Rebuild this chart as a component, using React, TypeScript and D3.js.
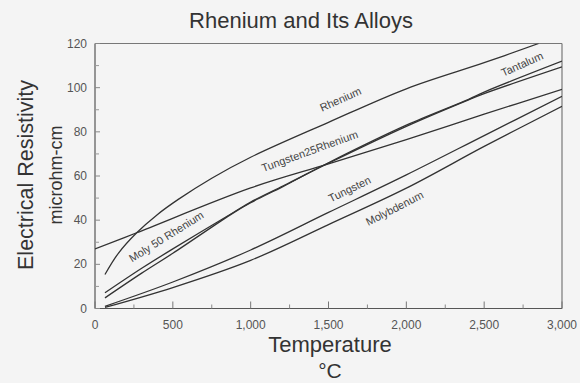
import React from "react";
import * as d3 from "d3";

const W = 580;
const H = 383;

const xTicks = [0, 500, 1000, 1500, 2000, 2500, 3000];
const xMinorTicks = [250, 750, 1250, 1750, 2250, 2750];
const yTicks = [0, 20, 40, 60, 80, 100, 120];
const yMinorTicks = [10, 30, 50, 70, 90, 110];

const rheniumT = [64, 150, 268, 400, 535, 750, 1000, 1500, 2000, 2500, 2850];
const rheniumV = [15.4, 25, 34.3, 42.5, 49.4, 59, 68.5, 84.3, 99.5, 111.3, 120];

const w25ReT = [0, 268, 1000, 1500, 2000, 2500, 3000];
const w25ReV = [27, 34.3, 54.6, 65.5, 76.5, 88, 99.2];

const moly50ReT = [64, 300, 500, 889, 1000, 1210, 1500, 2000, 2400, 2500, 3000];
const moly50ReV = [7.1, 18.2, 27, 43.5, 48.2, 55.6, 65.8, 82.5, 94.5, 97.3, 109.4];

const tantalumT = [64, 300, 500, 889, 1000, 1210, 1500, 2000, 2400, 2500, 3000];
const tantalumV = [4.8, 16, 25, 43.3, 47.9, 55.3, 66, 83, 94.7, 98, 112];

const tungstenT = [64, 500, 1000, 1500, 2000, 2500, 3000];
const tungstenV = [1, 12, 26.5, 43.5, 60.5, 78.3, 96.1];

const molybdenumT = [64, 500, 1000, 1500, 2000, 2500, 3000];
const molybdenumV = [0.5, 9.5, 21.8, 38, 54.5, 73.4, 91.6];

const seriesNames = ["Rhenium", "Tungsten25Rhenium", "Moly 50 Rhenium", "Tantalum", "Tungsten", "Molybdenum"];
const seriesT = [rheniumT, w25ReT, moly50ReT, tantalumT, tungstenT, molybdenumT];
const seriesV = [rheniumV, w25ReV, moly50ReV, tantalumV, tungstenV, molybdenumV];

// curve label anchors (data space) and rotation
const labelTexts = ["Rhenium", "Tungsten25Rhenium", "Moly 50 Rhenium", "Tungsten", "Molybdenum", "Tantalum"];
const labelT = [1580, 1381, 461, 1638, 1927, 2746];
const labelV = [94.4, 70.9, 32.2, 53.7, 45, 110.3];
const labelAngle = [-24, -20, -32, -26, -27, -24];

const FONT = "'Liberation Sans', Arial, Helvetica, sans-serif";

export default function App() {
  const x = d3.scaleLinear().domain([0, 3000]).range([95, 562]);
  const y = d3.scaleLinear().domain([0, 120]).range([308.5, 43.5]);

  const line = d3
    .line<[number, number]>()
    .x((d) => x(d[0]))
    .y((d) => y(d[1]))
    .curve(d3.curveCatmullRom.alpha(0.5));

  const paths = seriesT.map((ts, i) =>
    line(ts.map((t, j) => [t, seriesV[i][j]] as [number, number]))
  );

  const x0 = x(0), x1 = x(3000), y0 = y(0), y1 = y(120);

  return (
    <svg
      width={W}
      height={H}
      style={{ position: "absolute", left: 0, top: 0, background: "#f4f4f4" }}
      fontFamily={FONT}
    >
      <rect x={0} y={0} width={W} height={H} fill="#f4f4f4" />
      <text x={301} y={28} fontSize={22} fill="#333" textAnchor="middle">
        Rhenium and Its Alloys
      </text>

      <defs>
        <clipPath id="plotclip">
          <rect x={x0} y={y1} width={x1 - x0} height={y0 - y1} />
        </clipPath>
      </defs>

      {/* frame */}
      <line x1={x0} x2={x1} y1={y1} y2={y1} stroke="#777" strokeWidth={1} />
      <line x1={x1} x2={x1} y1={y1} y2={y0} stroke="#777" strokeWidth={1.2} />
      <line x1={x0} x2={x1} y1={y0} y2={y0} stroke="#555" strokeWidth={1.2} />
      <line x1={x0} x2={x0} y1={y1} y2={y0} stroke="#555" strokeWidth={1.2} />

      {/* x ticks */}
      {xTicks.map((t) => (
        <g key={"xt" + t}>
          <line x1={x(t)} x2={x(t)} y1={y0} y2={y0 - 7} stroke="#777" />
          <text x={x(t)} y={328.5} fontSize={12} fill="#555" textAnchor="middle">
            {d3.format(",")(t)}
          </text>
        </g>
      ))}
      {xMinorTicks.map((t) => (
        <line key={"xm" + t} x1={x(t)} x2={x(t)} y1={y0} y2={y0 - 4} stroke="#888" />
      ))}

      {/* y ticks */}
      {yTicks.map((v) => (
        <g key={"yt" + v}>
          <line x1={x0} x2={x0 + 5} y1={y(v)} y2={y(v)} stroke="#888" />
          <text x={87} y={y(v) + 4} fontSize={12} fill="#555" textAnchor="end">
            {v}
          </text>
        </g>
      ))}
      {yMinorTicks.map((v) => (
        <line key={"ym" + v} x1={x0} x2={x0 + 4} y1={y(v)} y2={y(v)} stroke="#999" />
      ))}

      {/* curves */}
      <g clipPath="url(#plotclip)">
        {paths.map((p, i) => (
          <path key={seriesNames[i]} d={p || ""} fill="none" stroke="#333" strokeWidth={1.3} />
        ))}
      </g>

      {/* curve labels */}
      {labelTexts.map((s, i) => (
        <text
          key={"lab" + i}
          transform={`translate(${x(labelT[i])},${y(labelV[i])}) rotate(${labelAngle[i]})`}
          fontSize={11}
          fill="#444"
          textAnchor="middle"
          dominantBaseline="middle"
        >
          {s}
        </text>
      ))}

      {/* axis titles */}
      <text transform="translate(33,175) rotate(-90)" fontSize={21.5} fill="#333" textAnchor="middle">
        Electrical Resistivity
      </text>
      <text transform="translate(62,175) rotate(-90)" fontSize={18} fill="#333" textAnchor="middle">
        microhm-cm
      </text>
      <text x={330} y={352} fontSize={22} fill="#333" textAnchor="middle">
        Temperature
      </text>
      <text x={330} y={378} fontSize={21} fill="#333" textAnchor="middle">
        °C
      </text>
    </svg>
  );
}
